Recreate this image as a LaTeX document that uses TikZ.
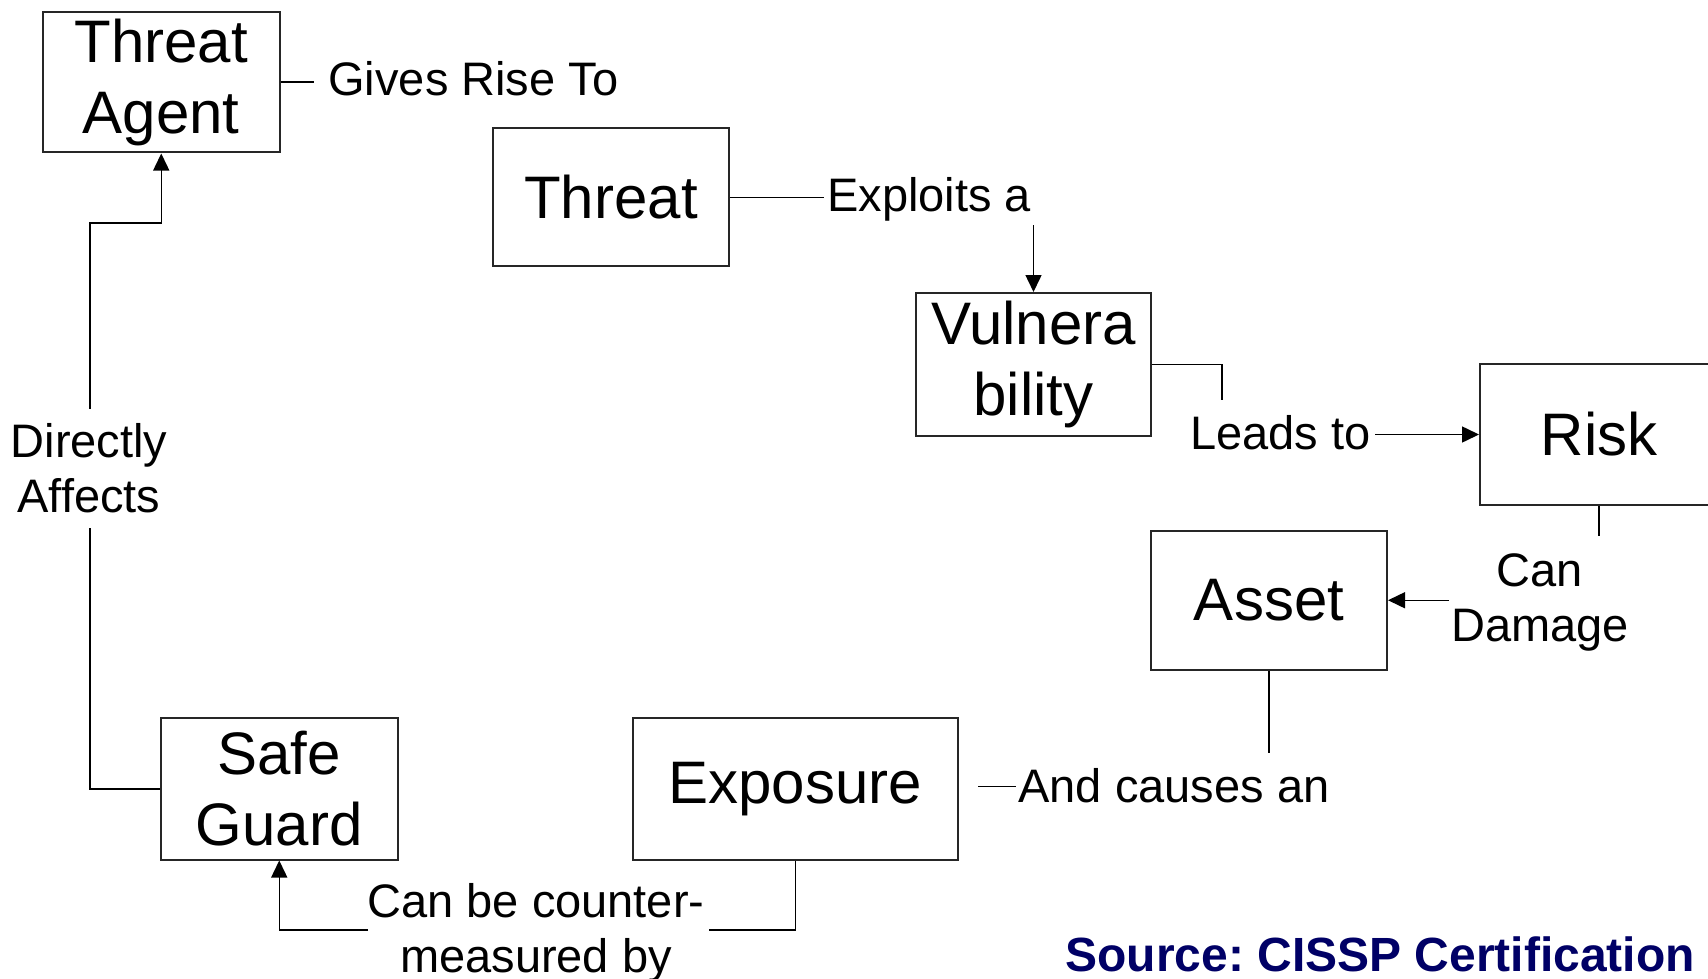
\documentclass[tikz,border=0pt]{standalone}
\usepackage{fontspec}
\setmainfont{Liberation Sans}
\usetikzlibrary{arrows.meta}
\definecolor{srcblue}{RGB}{0,0,102}
\frenchspacing
\begin{document}
\begin{tikzpicture}[x=0.5pt,y=-0.5pt,
  box/.style={draw=black!85,line width=1pt,minimum width=118pt,minimum height=70pt,inner sep=0pt,align=center,font=\fontsize{30}{35.5}\selectfont},
  lbl/.style={inner sep=0pt,font=\fontsize{23.5}{27.5}\selectfont,align=center},
  conn/.style={draw=black,line width=0.75pt},
  arr/.style={conn,-{Triangle[length=8.5pt,width=8pt]}}]
\clip (0,0) rectangle (1708,979);
% boxes
\node[box,minimum width=118.75pt,minimum height=70.25pt] (ta) at (161.25,82.25) {Threat\\Agent};
\node[box,minimum height=68.75pt] (th) at (611,197.25) {Threat};
\node[box,minimum width=117.5pt,minimum height=71.5pt] (vu) at (1033.5,364.5) {Vulnera\\bility};
\node[box,minimum width=119pt,minimum height=70.5pt] (ri) at (1599,434.5) {Risk};
\node[box,minimum height=69.75pt] (as) at (1269,600.25) {Asset};
\node[box,minimum width=162.25pt,minimum height=70.75pt] (ex) at (795.25,788.75) {Exposure};
\node[box,minimum width=118.25pt,minimum height=70.75pt] (sg) at (279.25,788.75) {Safe\\Guard};
% labels
\node[lbl,anchor=base west] (gives) at (328,96) {Gives Rise To};
\node[lbl,anchor=base west] (expl) at (827,211) {Exploits a};
\node[lbl,anchor=base west] (leads) at (1190,449.5) {Leads to};
\node[lbl] (dmg) at (1540,602.75) {Can\\Damage};
\node[lbl,anchor=base west] (causes) at (1018,802.5) {And causes an};
\node[lbl] (cm) at (536,932.75) {Can be counter-\\measured by};
\node[lbl] (da) at (89,468) {Directly\\Affects};
\node[anchor=base west,inner sep=0pt,font=\fontsize{24}{28}\selectfont\bfseries,text=srcblue] (src) at (1065,971) {Source: CISSP Certification};
% free ends
\coordinate (g1) at (314,82.25);
\coordinate (e1) at (824,197.25);
\coordinate (e2) at (1033.5,225);
\coordinate (l1) at (1222,400);
\coordinate (l2) at (1375,434.5);
\coordinate (c1) at (1599,536);
\coordinate (c2) at (1449,600.25);
\coordinate (a1) at (1269,753);
\coordinate (a2) at (978,786.5);
\coordinate (a3) at (1016,786.5);
\coordinate (m1) at (709,930);
\coordinate (m2) at (368,930);
\coordinate (d1) at (90,528);
\coordinate (d2) at (90,408.5);
\coordinate (d3) at (90,223);
% connectors
\draw[conn] (ta.east) -- (g1);
\draw[conn] (th.east) -- (e1);
\draw[arr] (e2) -- (vu.north);
\draw[conn] (vu.east) -| (l1);
\draw[arr] (l2) -- (ri.west);
\draw[conn] (ri.south) -- (c1);
\draw[arr] (c2) -- (as.east);
\draw[conn] (as.south) -- (a1);
\draw[conn] (a2) -- (a3);
\draw[conn] (ex.south) |- (m1);
\draw[arr] (m2) -| (sg.south);
\draw[conn] (sg.west) -| (d1);
\draw[arr] (d2) -- (d3) -| (ta.south);
\end{tikzpicture}
\end{document}
